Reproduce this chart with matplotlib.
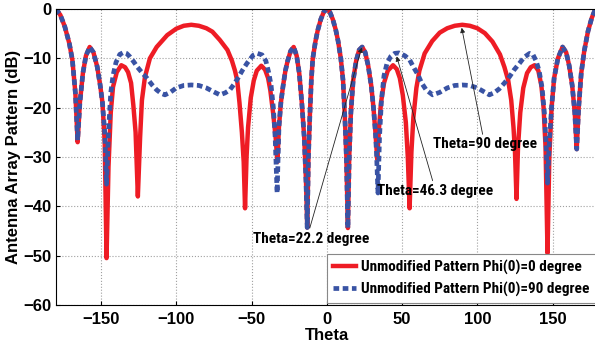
import numpy as np
import matplotlib
matplotlib.use('Agg')
import matplotlib.pyplot as plt
from matplotlib import font_manager

# ---- data (theta in degree, pattern in dB) ----
theta_phi0 = [-180, -177, -174, -171, -169, -167, -165.5, -164, -162, -160, -157.5, -155, -152.5,
              -150.5, -149, -147.5, -146.3, -145, -143.5, -142, -139.5, -136.5, -134, -132, -130,
              -128.5, -127, -125.5, -124, -122.8, -120.8, -117.5, -113, -106, -100, -95, -90, -85,
              -80, -76, -71, -66, -63, -61, -59.5, -58, -56.4, -55.2, -54.3, -53.3, -52.3, -50.5,
              -48.5, -46.5, -43.5, -41, -39, -37.5, -35.5, -34, -32.8, -31.8, -30.5, -29, -27.5,
              -26, -24, -22, -20, -18.3, -16.6, -15, -13.8, -13, -12.2, -11.3, -10.3, -9.3, -7.5,
              -6, -4, -2, 0, 2, 4, 6, 7.5, 9.3, 10.8, 12, 13, 14, 14.9, 16, 17.5, 19.5, 21.5, 23.5,
              25.5, 27.5, 29.5, 31, 32.3, 33.5, 34.7, 36, 38, 40.5, 44, 46.5, 48.5, 50.5, 52.5,
              53.8, 55, 56.2, 57.5, 59.5, 61.5, 65, 70, 75, 80, 85, 90, 95, 100, 105, 110, 115, 118,
              120.5, 122.5, 124, 125, 126, 127, 128.5, 130.5, 133, 135.5, 138, 140.5, 142.5, 144,
              145.3, 146.6, 147.8, 149.3, 151, 153.5, 156.6, 159, 161, 163, 164.7, 166, 167.3, 169,
              171, 173.5, 176, 178, 180]
pattern_phi0 = [0, -1.2, -3.6, -7, -10.3, -17, -27, -19, -13, -9.5, -7.7, -8.8, -11.7,
                -15.5, -19, -27, -50.5, -32, -21, -15.8, -12.8, -11.4, -11.8, -12.8, -15,
                -19.5, -25, -38, -26, -18.5, -13.8, -10, -7.7, -5.3, -4.0, -3.4, -3.2, -3.4,
                -3.9, -4.6, -6.3, -8.3, -10.5, -12.5, -14.5, -19, -25, -31, -40.4, -30, -24, -18,
                -14.5, -12.5, -11.5, -12.3, -14, -16.5, -21.5, -26, -31, -24, -19, -15.5, -12.5,
                -10.5, -8.5, -7.7, -9.5, -13, -19, -26, -35, -44.3, -30, -22, -14.5, -10, -6.5,
                -4.3, -2.1, -0.6, 0, -0.6, -2.1, -4.3, -6.5, -10, -14.5, -22, -30, -44.4, -30, -21,
                -14.5, -10.5, -8.3, -7.7, -8.8, -11.5, -15.5, -20, -25, -30.5, -24, -19, -15, -12.5,
                -11.4, -12.2, -14, -17.5, -23, -30, -40.4, -29, -22, -16, -12.5, -9, -6.5, -4.8,
                -3.9, -3.4, -3.2, -3.4, -3.9, -4.9, -6.6, -9.2, -11.8, -14.5, -18.5, -24, -29,
                -38.5, -28, -21, -16, -13, -11.8, -11.4, -12.5, -15.5, -20, -28, -49.5, -30, -20,
                -14, -10, -7.7, -8.8, -11.5, -15.5, -21, -28.4, -20, -13, -8.5, -4.5, -1.8, -0.3, 0]

theta_phi90 = [-180, -177, -174, -171, -169, -167, -165.5, -164, -162, -160, -157.5, -155, -152.5,
               -150.5, -149, -147.5, -146.3, -145, -143.5, -142, -140, -137.5, -135, -133, -130.7,
               -128, -126, -123, -119.5, -116, -113, -110, -107.5, -104, -100, -95, -90, -85, -80,
               -75, -71, -67.5, -64.4, -61.5, -59, -56, -53, -49, -46, -43, -40.5, -38.5, -37,
               -35.5, -34.3, -33, -31.8, -30.5, -29, -27.5, -26, -24, -22, -20, -18.3, -16.6, -15,
               -13.8, -13, -12.2, -11.3, -10.3, -9.3, -7.5, -6, -4, -2, 0, 2, 4, 6, 7.5, 9.3, 10.8,
               12, 13, 14, 14.9, 16, 17.5, 19.5, 21.5, 23.5, 25.5, 27.5, 29.5, 31, 32.3, 33, 34, 35,
               36.3, 38, 40, 42.5, 45, 48, 52, 55, 58, 60.5, 63, 66, 70.3, 75, 80, 85, 90, 95, 100,
               104, 108, 111, 114.5, 118, 121.4, 124.5, 128, 131, 134.7, 137, 139, 141, 143, 144.5,
               145.6, 146.6, 147.8, 149.3, 151, 153.5, 156.6, 159, 161, 163, 164.7, 166, 167.3, 169,
               171, 173.5, 176, 178, 180]
pattern_phi90 = [0, -1.2, -3.6, -7, -10.3, -17, -26.6, -19, -13, -9.5, -7.7, -8.8, -11.7,
                 -15.5, -19, -25, -35.5, -25, -17, -13.5, -10.8, -9.2, -8.8, -9.0, -9.7,
                 -10.8, -11.7, -12.8, -14, -15.4, -16.4, -17.1, -17.4, -16.9, -16.0, -15.5, -15.4,
                 -15.5, -16.0, -16.8, -17.4, -17.0, -16.4, -15.2, -14, -12.4, -11, -9.4, -9.0, -9.3,
                 -10.5, -13, -15.5, -20, -26, -37.3, -24, -19, -15.5, -12.5, -10.5, -8.5, -7.7,
                 -9.5, -13, -19, -26, -35, -44.3, -30, -22, -14.5, -10, -6.5, -4.3, -2.1, -0.6, 0,
                 -0.6, -2.1, -4.3, -6.5, -10, -14.5, -22, -30, -44.4, -30, -21, -14.5, -10.5, -8.3,
                 -7.7, -8.8, -11.5, -15.5, -20, -25, -29, -37.3, -26, -18.5, -13.5, -11, -9.6, -9.0,
                 -8.9, -9.5, -10.3, -12, -13.3, -15, -16.4, -17.4, -16.9, -16.0, -15.5, -15.4, -15.5,
                 -16.0, -16.7, -17.4, -17.0, -16.2, -15, -13.7, -12.3, -11, -9.8, -9.0, -9.3, -10.5,
                 -12.5, -16, -21, -27, -35.3, -27, -20, -14, -10, -7.7, -8.8, -11.5, -15.5, -21,
                 -28.4, -20, -13, -8.5, -4.5, -1.8, -0.3, 0]

x_ticks = [-150, -100, -50, 0, 50, 100, 150]
y_ticks = [0, -10, -20, -30, -40, -50, -60]
labels = ['Unmodified Pattern Phi(0)=0 degree', 'Unmodified Pattern Phi(0)=90 degree']

# narrow bold font for annotations / legend (Arial Narrow look)
installed = {f.name for f in font_manager.fontManager.ttflist}
narrow = 'Liberation Sans'
for cand in ['Liberation Sans Narrow', 'Arial Narrow', 'Roboto Condensed',
             'Asap Condensed', 'Barlow Semi Condensed']:
    if cand in installed:
        narrow = cand
        break

plt.rcParams['font.family'] = ['Liberation Sans', 'DejaVu Sans']

fig = plt.figure(figsize=(5.95, 3.55), dpi=100)
ax = fig.add_axes([55.8 / 595, 50 / 355, 542 / 595, 296 / 355])

ax.plot(theta_phi0, pattern_phi0, color='#ee1c25', lw=3.2, solid_joinstyle='round',
        label=labels[0])
ax.plot(theta_phi90, pattern_phi90, color='#3953a4', lw=3.4, linestyle=(0, (1.2, 0.75)),
        label=labels[1])

ax.set_xlim(-180, 180)
ax.set_ylim(-60, 0)
ax.set_xticks(x_ticks)
ax.set_yticks(y_ticks)
ax.grid(True, color='#a0a0a0', linestyle=':', linewidth=0.8)
ax.tick_params(direction='in', length=3, labelsize=12, pad=5)
for lab in ax.get_xticklabels() + ax.get_yticklabels():
    lab.set_fontweight('bold')
ax.tick_params(axis='y', pad=3)
for sp in ax.spines.values():
    sp.set_linewidth(0.8)

ax.set_xlabel('Theta', fontsize=12, fontweight='bold', labelpad=1)
ax.set_ylabel('Antenna Array Pattern (dB)', fontsize=12, fontweight='bold', labelpad=2)

arrow = dict(arrowstyle='-|>', color='#222222', lw=0.6, mutation_scale=7,
             shrinkA=0, shrinkB=0)
ax.annotate('', xy=(23.2, -7.8), xytext=(-11.3, -44.4), arrowprops=arrow)
ax.text(-49, -46.6, 'Theta=22.2 degree', fontsize=11, fontweight='bold',
        family=narrow, va='center')
ax.annotate('', xy=(46.4, -9.6), xytext=(70.3, -34.8), arrowprops=arrow)
ax.text(33.2, -36.8, 'Theta=46.3 degree', fontsize=11, fontweight='bold',
        family=narrow, va='center')
ax.annotate('', xy=(89.6, -3.8), xytext=(103.5, -25.4), arrowprops=arrow)
ax.text(70.3, -27.3, 'Theta=90 degree', fontsize=11, fontweight='bold',
        family=narrow, va='center')

leg = ax.legend(loc='lower right', bbox_to_anchor=(1.0, 0.0), fancybox=False,
                prop={'family': narrow, 'weight': 'bold', 'size': 11},
                handlelength=1.5, handletextpad=0.3, borderpad=0.4,
                labelspacing=0.45, borderaxespad=0.15, framealpha=1)
leg.get_frame().set_edgecolor('#888888')
leg.get_frame().set_linewidth(0.8)

fig.savefig('out.png', dpi=100)
